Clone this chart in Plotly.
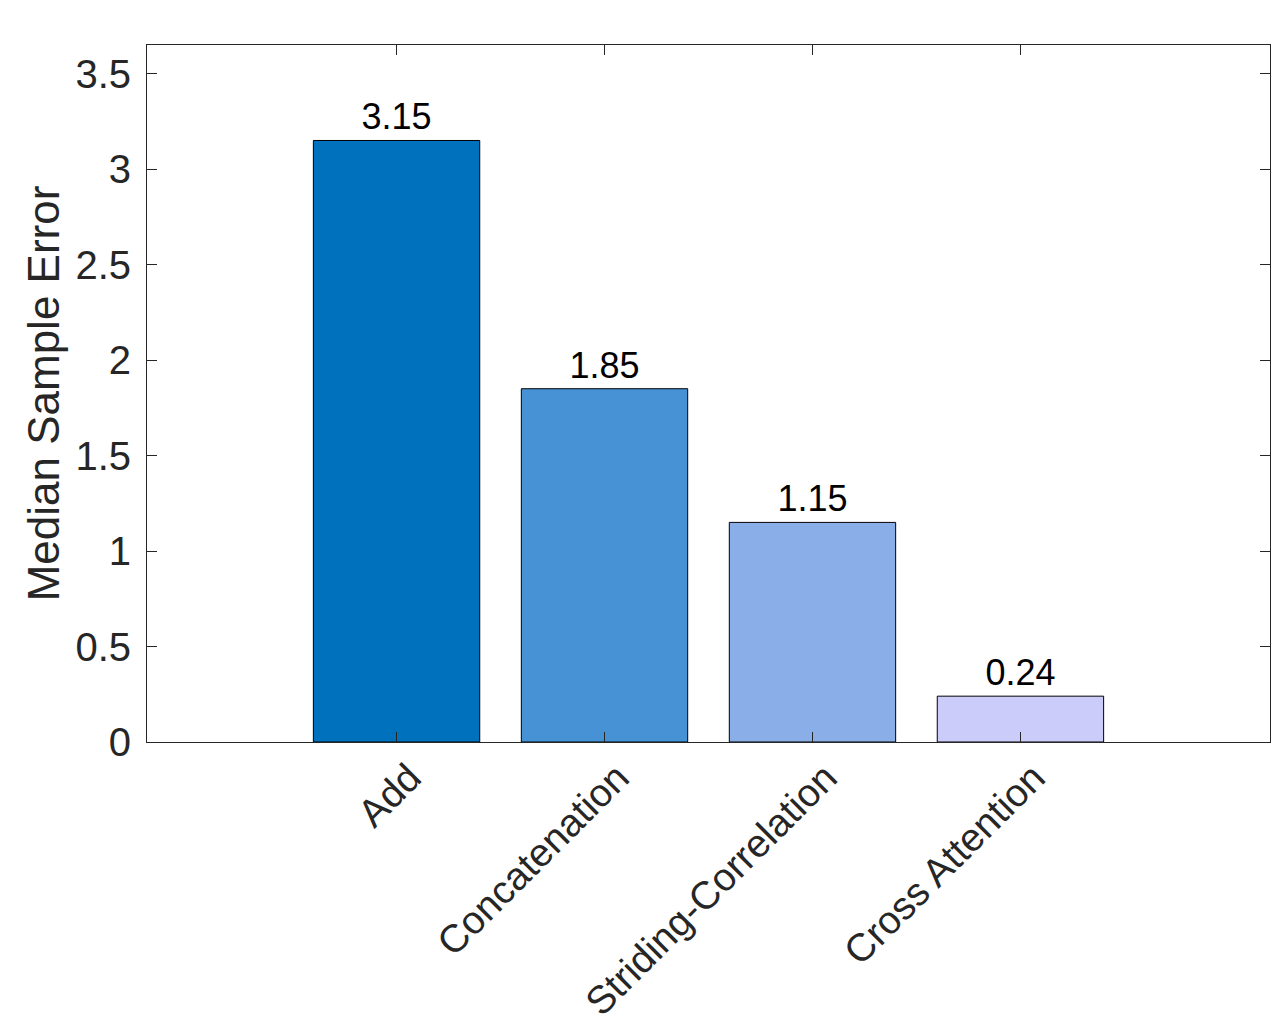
import plotly.graph_objects as go

categories = ["Add", "Concatenation", "Striding-Correlation", "Cross Attention"]
values = [3.15, 1.85, 1.15, 0.24]
value_labels = ["3.15", "1.85", "1.15", "0.24"]
bar_colors = ["#0072BD", "#4791D5", "#8AAEE8", "#CCCCFA"]
y_ticks = [0, 0.5, 1, 1.5, 2, 2.5, 3, 3.5]
y_tick_labels = ["0", "0.5", "1", "1.5", "2", "2.5", "3", "3.5"]

FONT = "Liberation Sans, Arial, Helvetica, sans-serif"
AX = "#262626"

fig = go.Figure()
fig.add_trace(go.Bar(
    x=categories,
    y=values,
    width=0.8,
    marker=dict(color=bar_colors, line=dict(color="black", width=1)),
    text=value_labels,
    textposition="outside",
    textfont=dict(family=FONT, size=36, color="black"),
    cliponaxis=False,
    hoverinfo="x+y",
))

# page body adds an 8px margin, so the figure is sized/offset to compensate
fig.update_layout(
    width=1271,
    height=1022,
    margin=dict(l=139, r=9, t=37, b=288),
    paper_bgcolor="white",
    plot_bgcolor="white",
    showlegend=False,
    font=dict(family=FONT, color=AX),
    xaxis=dict(
        type="category",
        range=[-1.2, 4.2],
        automargin=False,
        showline=True, linecolor=AX, linewidth=1, mirror="ticks",
        ticks="inside", ticklen=10, tickcolor=AX, tickwidth=1,
        tickangle=-45,
        ticklabelshift=13,
        ticklabelstandoff=-4,
        tickfont=dict(family=FONT, size=39, color=AX),
        showgrid=False, zeroline=False,
    ),
    yaxis=dict(
        range=[0, 3.65],
        automargin=False,
        tickvals=y_ticks, ticktext=y_tick_labels,
        showline=True, linecolor=AX, linewidth=1, mirror="ticks",
        ticks="inside", ticklen=10, tickcolor=AX, tickwidth=1,
        ticklabelstandoff=7,
        tickfont=dict(family=FONT, size=40, color=AX),
        title=dict(text="Median Sample Error", font=dict(family=FONT, size=44, color=AX), standoff=1),
        showgrid=False, zeroline=False,
    ),
)

fig.write_html("out.html")
